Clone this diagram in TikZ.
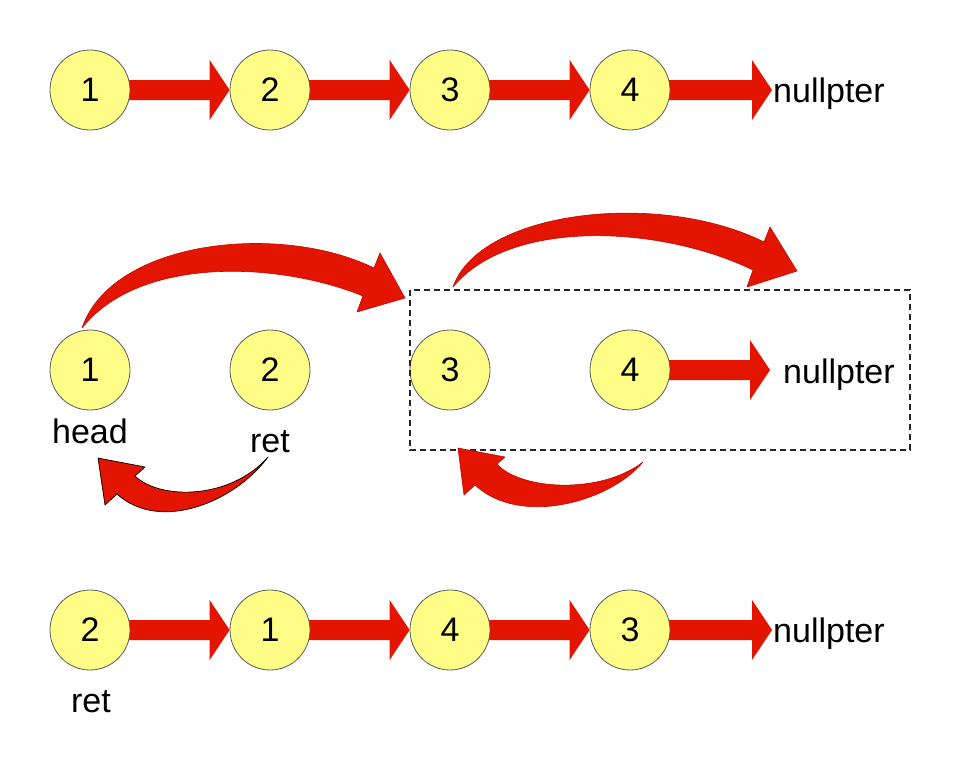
\documentclass[tikz,border=0pt]{standalone}
\usepackage{fontspec}
\setmainfont{Liberation Sans}
\usetikzlibrary{calc,backgrounds}
\definecolor{arrowred}{RGB}{227,20,0}
\definecolor{arrowedge}{RGB}{190,10,0}
\definecolor{nodefill}{RGB}{255,255,136}
\definecolor{nodeline}{RGB}{90,90,90}
\tikzset{
  lnode/.style={circle,draw=nodeline,line width=0.8pt,fill=nodefill,minimum size=80pt,inner sep=0pt,font=\fontsize{34}{40}\selectfont},
  lbl/.style={inner sep=0pt,font=\fontsize{34}{40}\selectfont},
  blockarrow/.style={fill=arrowred},
  curvearrow/.style={fill=arrowred,draw=arrowedge,line width=0.6pt,line join=round},
  curvearrowblack/.style={fill=arrowred,draw=black,line width=0.7pt,line join=round},
  groupbox/.style={draw=black!85,line width=1.3pt,dash pattern=on 6pt off 4pt}
}
% block arrow from node #1 to tip coordinate #2
\newcommand\blockarr[2]{%
  \fill[blockarrow] ($(#1.center)+(0,-10)$) -- ($(#2)+(-20,-10)$) -- ($(#2)+(-20,-30)$) -- (#2)
    -- ($(#2)+(-20,30)$) -- ($(#2)+(-20,10)$) -- ($(#1.center)+(0,10)$) -- cycle;}
\begin{document}
\begin{tikzpicture}[x=1pt,y=-1pt]
\useasboundingbox (0,0) rectangle (962,772);
% ---------- row 1 ----------
\node[lnode] (a1) at (90,90) {1};
\node[lnode] (a2) at (270,90) {2};
\node[lnode] (a3) at (450,90) {3};
\node[lnode] (a4) at (630,90) {4};
\node[lbl,anchor=base west] (anull) at (773,102) {nullpter};
\coordinate (anullt) at (772,90);
% ---------- row 2 ----------
\node[lnode] (b1) at (90,370) {1};
\node[lnode] (b2) at (270,370) {2};
\node[lnode] (b3) at (450,370) {3};
\node[lnode] (b4) at (630,370) {4};
\node[lbl,anchor=base west] (bnull) at (783,383) {nullpter};
\coordinate (bnullt) at (770,370);
\node[lbl,anchor=base] (head) at (90,443) {head};
\node[lbl,anchor=base] (ret1) at (270,452) {ret};
\draw[groupbox] (410,290) rectangle (910,450);
% ---------- row 3 ----------
\node[lnode] (c1) at (90,630) {2};
\node[lnode] (c2) at (270,630) {1};
\node[lnode] (c3) at (450,630) {4};
\node[lnode] (c4) at (630,630) {3};
\node[lbl,anchor=base west] (cnull) at (773,642) {nullpter};
\coordinate (cnullt) at (772,630);
\node[lbl,anchor=base] (ret2) at (91,712) {ret};
% ---------- straight block arrows ----------
\begin{scope}[on background layer]
\blockarr{a1}{a2.west}
\blockarr{a2}{a3.west}
\blockarr{a3}{a4.west}
\blockarr{a4}{anullt}
\blockarr{b4}{bnullt}
\blockarr{c1}{c2.west}
\blockarr{c2}{c3.west}
\blockarr{c3}{c4.west}
\blockarr{c4}{cnullt}
\end{scope}
% ---------- curved arrows ----------
% head (1) -> dashed group
\coordinate (s1) at (82,328);
\coordinate (t1) at (405,298);
\draw[curvearrow] (s1) .. controls (112,240) and (280,222) .. (374,268)
  -- (380,253) -- (t1) -- (357,312) -- (363,296)
  .. controls (280,262) and (140,255) .. (s1) -- cycle;
% group (3) -> forward
\coordinate (s2) at (453,287);
\coordinate (t2) at (797,271);
\draw[curvearrow] (s2) .. controls (480,210) and (660,190) .. (764,242)
  -- (770,227) -- (t2) -- (747,287) -- (753,270)
  .. controls (660,225) and (510,218) .. (s2) -- cycle;
% ret -> head
\coordinate (s3) at (268,457);
\coordinate (t3) at (98,458);
\draw[curvearrowblack] (s3) .. controls (235,502) and (160,533) .. (117,494)
  -- (105,505) -- (t3) -- (145,467) -- (135,476)
  .. controls (160,500) and (230,500) .. (s3) -- cycle;
% 4 -> 3 back
\coordinate (s4) at (643,462);
\coordinate (t4) at (458,448);
\draw[curvearrow] (s4) .. controls (610,502) and (520,527) .. (475,485)
  -- (464,495) -- (t4) -- (505,457) -- (497,464)
  .. controls (520,490) and (600,495) .. (s4) -- cycle;
\end{tikzpicture}
\end{document}
